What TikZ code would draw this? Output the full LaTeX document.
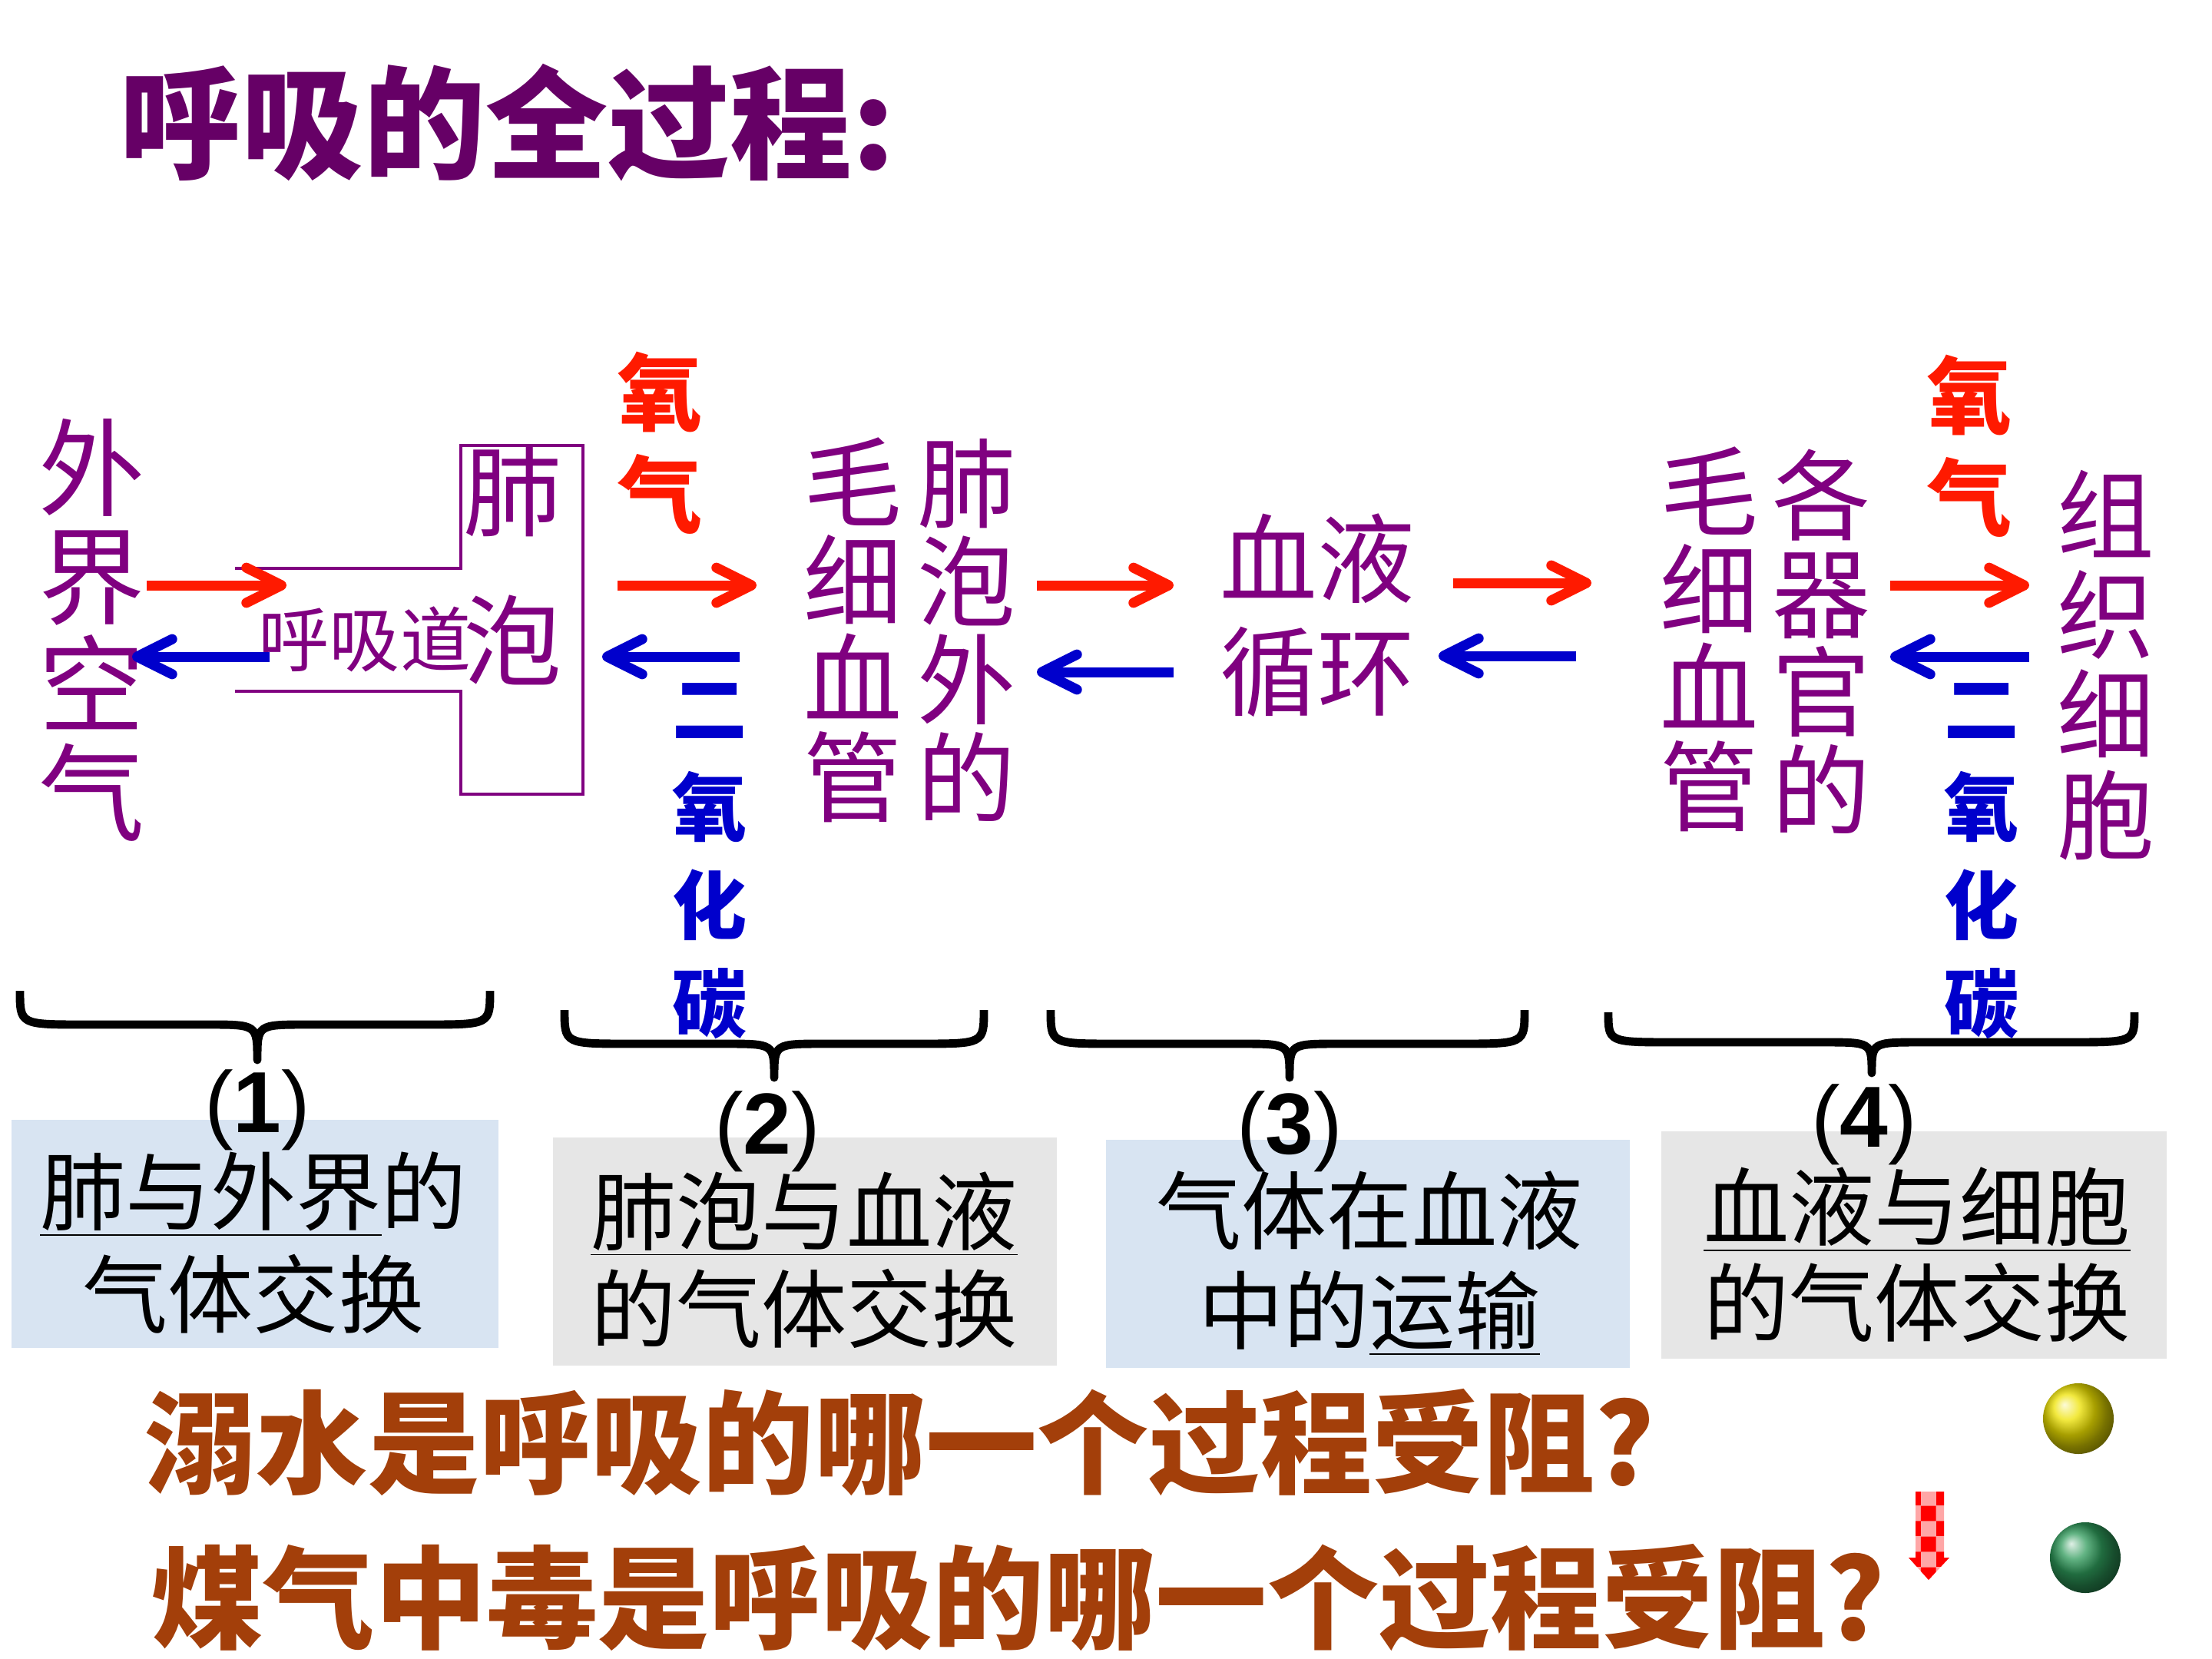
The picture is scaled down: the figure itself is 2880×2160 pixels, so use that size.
\documentclass[tikz,border=0pt]{standalone}
\usepackage{fontspec}
\newfontfamily\cjk{Noto Sans CJK SC}
\newfontfamily\arl{Liberation Sans}
\usetikzlibrary{arrows.meta,patterns}
\newcommand\myfs[2]{\fontsize{#1pt}{#2pt}\selectfont}
\definecolor{purp}{HTML}{800080}
\definecolor{titlep}{HTML}{660066}
\definecolor{myred}{HTML}{FF1A00}
\definecolor{myblue}{HTML}{0000CC}
\definecolor{rust}{HTML}{A33F0A}
\definecolor{boxblue}{HTML}{D8E4F2}
\definecolor{boxgrey}{HTML}{E6E6E6}
\definecolor{ballyellow}{HTML}{EEE200}
\definecolor{ballgreen}{HTML}{2E9A5A}
\newcommand\mybrace[6]{%
 \draw[bracestyle] (#1,#4) .. controls (#1,#5) and (#1,#5) .. ({#1+85},#5) -- ({#3-65},#5)
   .. controls (#3,#5) and (#3,#5) .. (#3,#6)
   .. controls (#3,#5) and (#3,#5) .. ({#3+65},#5) -- ({#2-85},#5)
   .. controls (#2,#5) and (#2,#5) .. (#2,#4);}
\begin{document}
\begin{tikzpicture}[x=0.01cm,y=-0.01cm,
 every node/.style={inner sep=0pt, align=center},
 purptxt/.style={text=purp, font=\cjk\myfs{36.4}{36.4}},
 oxtxt/.style={text=myred, font=\cjk\bfseries\myfs{31.3}{37.8}},
 cotxt/.style={text=myblue, font=\cjk\bfseries\myfs{27.6}{36.4}},
 boxtxt/.style={text=black, font=\cjk\myfs{31.6}{38}},
 numtxt/.style={text=black, font=\arl\myfs{32.1}{34}},
 qtxt/.style={text=rust, font=\cjk\bfseries\myfs{41.3}{44}, anchor=west},
 redarrow/.style={draw=myred, line width=3.7pt, -{Straight Barb[length=13pt,width=13pt,round]}},
 bluearrow/.style={draw=myblue, line width=3.7pt, -{Straight Barb[length=13pt,width=13pt,round]}},
 lungline/.style={draw=purp, line width=1.3pt},
 bracestyle/.style={draw=black, line width=3.1pt, line join=round},
]
\useasboundingbox (0,0) rectangle (2880,2160);
\fill[white] (0,0) rectangle (2880,2160);

% title
\node[anchor=west, text=titlep, font=\cjk\bfseries\myfs{45.2}{48}] (title) at (155,160) {呼吸的全过程:};

% lung outline
\draw[lungline] (306,740) -- (600,740) -- (600,580) -- (759,580) -- (759,1034) -- (600,1034) -- (600,900) -- (306,900);

% columns
\node[purptxt, font=\cjk\myfs{39.3}{40.1}] (air) at (120,820) {外\\界\\空\\气};
\node[purptxt, font=\cjk\myfs{36.4}{55.2}] (lung) at (667,737) {肺\\泡};
\node[purptxt, font=\cjk\myfs{26.2}{28}] (airway) at (475,832) {呼吸道};
\node[purptxt] (cap1) at (1110,820) {毛\\细\\血\\管};
\node[purptxt] (alv) at (1258,821) {肺\\泡\\外\\的};
\node[purptxt, font=\cjk\myfs{36}{41.8}] (blood) at (1715,801) {血液\\循环};
\node[purptxt] (cap2) at (2225,832) {毛\\细\\血\\管};
\node[purptxt] (organ) at (2371,835) {各\\器\\官\\的};
\node[purptxt, font=\cjk\myfs{36}{37}] (cell) at (2742,866) {组\\织\\细\\胞};

\node[oxtxt] (ox1) at (860,577) {氧\\气};
\node[oxtxt] (ox2) at (2565,581) {氧\\气};

% braces
\mybrace{26}{638}{335}{1290}{1334}{1380}
\mybrace{735}{1281}{1008}{1315}{1359}{1403}
\mybrace{1368}{1985}{1679}{1315}{1359}{1403}
\mybrace{2094}{2779}{2437}{1318}{1357}{1397}

\node[cotxt] (co1) at (924,1121) {二\\氧\\化\\碳};
\node[cotxt] (co2) at (2580,1121) {二\\氧\\化\\碳};

% arrows
\coordinate (r1s) at (191,762); \coordinate (r1e) at (373,762);
\coordinate (b1s) at (351,855); \coordinate (b1e) at (172,855);
\coordinate (r2s) at (804,762); \coordinate (r2e) at (985,762);
\coordinate (b2s) at (963,855); \coordinate (b2e) at (784,855);
\coordinate (r3s) at (1350,762); \coordinate (r3e) at (1528,762);
\coordinate (b3s) at (1528,875); \coordinate (b3e) at (1350,875);
\coordinate (r4s) at (1892,759); \coordinate (r4e) at (2072,759);
\coordinate (b4s) at (2052,854); \coordinate (b4e) at (1873,854);
\coordinate (r5s) at (2461,762); \coordinate (r5e) at (2642,762);
\coordinate (b5s) at (2642,855); \coordinate (b5e) at (2461,855);
\draw[redarrow] (r1s) -- (r1e);
\draw[bluearrow] (b1s) -- (b1e);
\draw[redarrow] (r2s) -- (r2e);
\draw[bluearrow] (b2s) -- (b2e);
\draw[redarrow] (r3s) -- (r3e);
\draw[bluearrow] (b3s) -- (b3e);
\draw[redarrow] (r4s) -- (r4e);
\draw[bluearrow] (b4s) -- (b4e);
\draw[redarrow] (r5s) -- (r5e);
\draw[bluearrow] (b5s) -- (b5e);

% boxes
\fill[boxblue] (15,1458) rectangle (649,1755);
\fill[boxgrey] (720,1481) rectangle (1376,1778);
\fill[boxblue] (1440,1484) rectangle (2122,1781);
\fill[boxgrey] (2163,1473) rectangle (2821,1769);

\node[boxtxt, font=\cjk\myfs{31.6}{38.1}] (t1) at (330,1618) {\underline{肺与外界}的\\气体交换};
\node[boxtxt, font=\cjk\myfs{31.6}{36.1}] (t2) at (1047,1641) {\underline{肺泡与血液}\\的气体交换};
\node[boxtxt, font=\cjk\myfs{31.6}{37}] (t3) at (1783,1645) {气体在血液\\中的\underline{运输}};
\node[boxtxt, font=\cjk\myfs{31.6}{35.6}] (t4) at (2496,1634) {\underline{血液与细胞}\\的气体交换};

\node[numtxt] (n1) at (335,1445) {(\textbf{1})};
\node[numtxt] (n2) at (999,1473) {(\textbf{2})};
\node[numtxt] (n3) at (1679,1473) {(\textbf{3})};
\node[numtxt] (n4) at (2427,1464) {(\textbf{4})};

% questions
\node[qtxt] (q1) at (188,1878) {溺水是呼吸的哪一个过程受阻?};
\node[qtxt] (q2) at (197,2080) {煤气中毒是呼吸的哪一个过程受阻?};

% checkered down arrow
\fill[red!35] (2494,1942) -- (2531,1942) -- (2531,2028) -- (2538,2028) -- (2511,2057) -- (2485,2028) -- (2494,2028) -- cycle;
\fill[pattern=checkerboard, pattern color=red] (2494,1942) -- (2531,1942) -- (2531,2028) -- (2538,2028) -- (2511,2057) -- (2485,2028) -- (2494,2028) -- cycle;

% balls
\shade[ball color=ballyellow] (2706,1847) circle (0.46cm);
\shade[ball color=ballgreen] (2715,2028) circle (0.46cm);
\end{tikzpicture}
\end{document}
